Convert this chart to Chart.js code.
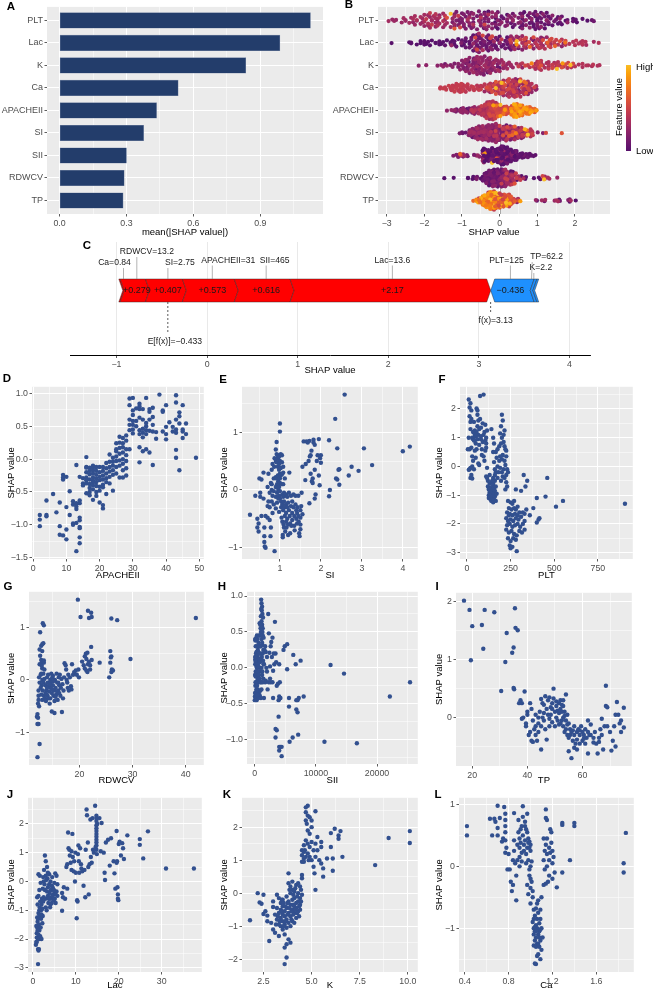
<!DOCTYPE html>
<html><head><meta charset="utf-8">
<script src="https://cdn.jsdelivr.net/npm/chart.js@4.4.1/dist/chart.umd.min.js"></script>
<style>
html,body{margin:0;padding:0;background:#fff;width:653px;height:991px;overflow:hidden;position:relative;}
canvas{position:absolute;}
.letter{position:absolute;font:bold 11.5px "Liberation Sans",Arial,sans-serif;color:#000;transform:translate(-50%,-50%);line-height:1;}
</style></head><body>
<script>
// ---------------- DATA ----------------
const features = ['PLT','Lac','K','Ca','APACHEII','SI','SII','RDWCV','TP'];
const meanAbsShap = [1.125,0.988,0.835,0.532,0.435,0.377,0.300,0.290,0.285];

// Force plot (panel C)
const forceFeatures = ['Ca','RDWCV','SI','APACHEII','SII','Lac','PLT','TP','K'];
const forceFeatureValues = ['0.84','13.2','2.75','31','465','13.6','125','62.2','2.2'];
const forceShap = [0.015,0.279,0.407,0.573,0.616,2.17,-0.436,-0.03,-0.02];
const baseValue = -0.433;
const fxValue = 3.13;

// Dependence data: [feature value, SHAP value]
const apacheiiData = [[2,-0.85],[2,-0.92],[2,-1.02],[4,-0.63],[4,-0.85],[4,-0.87],[6,-0.53],[7,-0.81],[8,-0.66],[8,-1.02],[8,-1.15],[9,-0.24],[9,-0.31],[9,-1.16],[9,-0.28],[10,-0.27],[10,-0.73],[10,-1.07],[10,-1.22],[11,-0.49],[11,-0.85],[12,-0.64],[12,-0.69],[12,-0.98],[12,-1.0],[13,-0.09],[13,-0.67],[13,-0.72],[13,-0.76],[13,-0.97],[13,-1.4],[14,-0.27],[14,-0.63],[14,-0.67],[14,-0.89],[14,-0.93],[14,-1.03],[14,-1.05],[14,-1.19],[14,-1.28],[15,-0.29],[15,-0.37],[15,-0.4],[16,0.03],[16,-0.12],[16,-0.13],[16,-0.2],[16,-0.28],[16,-0.32],[16,-0.37],[16,-0.52],[17,-0.13],[17,-0.18],[17,-0.23],[17,-0.31],[17,-0.38],[17,-0.44],[17,-0.5],[17,-0.55],[18,-0.1],[18,-0.13],[18,-0.17],[18,-0.22],[18,-0.28],[18,-0.33],[18,-0.36],[18,-0.4],[18,-0.46],[18,-0.62],[19,-0.12],[19,-0.18],[19,-0.24],[19,-0.3],[19,-0.35],[19,-0.41],[19,-0.5],[19,-0.56],[20,-0.12],[20,-0.2],[20,-0.27],[20,-0.32],[20,-0.42],[20,-0.48],[20,-0.66],[21,-0.12],[21,-0.18],[21,-0.25],[21,-0.31],[21,-0.39],[21,-0.43],[21,-0.7],[21,-0.75],[22,-0.06],[22,-0.14],[22,-0.22],[22,-0.29],[22,-0.35],[22,-0.53],[23,0.07],[23,-0.04],[23,-0.12],[23,-0.19],[23,-0.27],[23,-0.37],[24,0.02],[24,-0.04],[24,-0.1],[24,-0.17],[24,-0.24],[24,-0.48],[25,0.24],[25,0.15],[25,0.12],[25,0.04],[25,-0.03],[25,-0.12],[25,-0.22],[26,0.34],[26,0.25],[26,0.17],[26,0.08],[26,-0.02],[26,-0.1],[26,-0.28],[27,0.32],[27,0.24],[27,0.18],[27,0.1],[27,0.0],[27,-0.07],[27,-0.17],[27,-0.28],[28,0.36],[28,0.28],[28,0.15],[28,0.06],[28,-0.03],[28,-0.14],[28,-0.25],[29,0.92],[29,0.82],[29,0.6],[29,0.52],[29,0.44],[29,0.15],[30,0.93],[30,0.74],[30,0.67],[30,0.58],[30,0.52],[30,0.45],[30,0.39],[31,0.77],[31,0.58],[31,0.5],[32,0.84],[32,0.8],[32,0.76],[32,0.63],[32,0.44],[32,0.38],[32,0.18],[32,-0.05],[33,0.76],[33,0.6],[33,0.46],[33,0.4],[33,0.33],[33,0.12],[34,0.93],[34,0.55],[34,0.5],[34,0.44],[34,0.38],[34,0.15],[35,0.76],[35,0.72],[35,0.6],[35,0.43],[35,0.1],[36,0.78],[36,0.64],[36,0.52],[36,0.42],[36,-0.09],[37,0.41],[37,0.31],[38,0.98],[39,0.74],[39,0.72],[39,0.42],[40,0.82],[40,0.49],[40,0.38],[40,0.3],[41,0.56],[42,0.49],[42,0.42],[43,0.97],[43,0.86],[43,0.6],[43,0.45],[43,0.4],[43,0.14],[43,0.02],[44,0.71],[44,0.65],[44,0.54],[44,-0.17],[45,0.82],[45,0.45],[45,0.42],[45,0.32],[46,0.54],[46,0.38],[49,0.02]];

const siData = [[0.27,-0.43],[0.4,-0.1],[0.45,-0.5],[0.45,-0.65],[0.48,-0.72],[0.48,-0.58],[0.5,0.2],[0.52,-0.05],[0.52,-0.12],[0.55,0.18],[0.55,-0.45],[0.6,0.3],[0.6,-0.15],[0.62,-0.65],[0.62,-0.8],[0.62,-0.9],[0.63,-0.98],[0.65,-1.0],[0.65,-0.45],[0.7,0.05],[0.7,-0.28],[0.7,-0.48],[0.72,-0.2],[0.72,0.28],[0.75,-0.05],[0.75,-0.3],[0.75,-0.52],[0.77,-0.8],[0.78,-0.65],[0.78,0.12],[0.8,0.35],[0.8,0.1],[0.8,0.0],[0.8,-0.2],[0.82,0.45],[0.82,-0.1],[0.82,-0.4],[0.85,0.2],[0.85,-0.02],[0.85,-0.25],[0.86,0.4],[0.87,-1.06],[0.87,0.55],[0.9,0.7],[0.9,0.5],[0.9,0.22],[0.9,0.05],[0.9,-0.12],[0.9,-0.32],[0.92,0.62],[0.92,0.48],[0.92,0.2],[0.92,0.83],[0.93,0.1],[0.93,-0.05],[0.93,-0.22],[0.95,0.6],[0.95,0.55],[0.95,0.4],[0.95,0.25],[0.96,0.15],[0.96,0.0],[0.96,-0.15],[0.98,0.58],[0.98,0.45],[0.98,0.35],[0.98,0.05],[0.98,-0.1],[0.98,-0.38],[1.0,1.15],[1.0,1.01],[1.0,0.5],[1.0,0.28],[1.0,0.2],[1.0,0.12],[1.0,-0.02],[1.0,-0.15],[1.02,0.62],[1.02,0.38],[1.02,0.25],[1.03,-0.2],[1.03,-0.3],[1.04,-0.48],[1.05,0.6],[1.05,0.48],[1.05,0.27],[1.05,0.1],[1.06,-0.08],[1.06,-0.25],[1.06,-0.55],[1.07,-0.78],[1.07,-0.82],[1.08,0.4],[1.08,0.3],[1.08,0.1],[1.08,-0.12],[1.08,-0.35],[1.09,-0.6],[1.1,-0.65],[1.1,-0.05],[1.1,-0.2],[1.12,0.2],[1.12,-0.1],[1.12,-0.3],[1.12,-0.45],[1.13,-0.72],[1.15,-0.08],[1.15,-0.25],[1.15,-0.4],[1.15,-0.55],[1.16,-0.65],[1.18,-0.12],[1.18,-0.3],[1.18,-0.5],[1.2,-0.6],[1.2,-0.78],[1.2,-0.22],[1.22,-0.05],[1.22,-0.35],[1.23,0.3],[1.24,-0.45],[1.25,-0.75],[1.25,-0.58],[1.27,-0.1],[1.27,-0.28],[1.28,-0.62],[1.3,-0.4],[1.3,-0.52],[1.3,-0.2],[1.33,-0.08],[1.33,-0.3],[1.35,-0.45],[1.35,-0.62],[1.36,-0.7],[1.38,-0.1],[1.38,-0.25],[1.4,-0.35],[1.4,-0.5],[1.42,-0.4],[1.42,-0.58],[1.43,-0.3],[1.45,-0.1],[1.45,-0.45],[1.46,-0.55],[1.47,-0.75],[1.48,-0.8],[1.5,-0.35],[1.5,-0.48],[1.5,-0.6],[1.5,-0.68],[1.52,-0.28],[1.53,-0.05],[1.55,-0.42],[1.55,0.4],[1.58,0.84],[1.62,0.17],[1.63,0.45],[1.65,0.84],[1.68,0.82],[1.7,0.5],[1.72,0.85],[1.72,-0.23],[1.73,0.58],[1.75,0.6],[1.75,0.28],[1.77,0.68],[1.78,0.15],[1.8,0.2],[1.8,0.12],[1.82,0.87],[1.82,0.82],[1.85,0.78],[1.85,0.35],[1.85,-0.15],[1.87,-0.08],[1.9,0.5],[1.92,0.6],[1.95,0.88],[1.95,0.25],[1.97,0.08],[1.98,0.55],[2.0,0.47],[2.0,0.6],[2.2,0.86],[2.22,0.0],[2.2,-0.11],[2.35,1.23],[2.37,0.2],[2.4,0.72],[2.4,0.18],[2.43,0.35],[2.45,0.36],[2.45,0.09],[2.58,1.65],[2.68,0.25],[2.75,0.4],[2.92,0.33],[3.05,0.72],[3.25,0.43],[4.0,0.67],[4.17,0.75]];

const pltData = [[10,2.33],[20,2.2],[15,2.05],[25,1.95],[15,1.75],[20,1.55],[25,1.65],[20,1.3],[10,1.0],[30,1.0],[35,0.95],[5,0.6],[15,0.6],[25,0.65],[30,0.35],[35,0.2],[30,0.0],[15,-0.1],[20,-0.05],[25,-0.3],[20,-0.4],[30,-0.42],[10,-0.12],[40,-0.1],[45,1.1],[45,1.25],[45,0.9],[50,1.05],[50,0.8],[55,1.2],[55,0.6],[55,2.02],[60,1.95],[60,1.8],[65,1.6],[60,1.4],[65,1.1],[60,0.95],[70,0.75],[65,0.1],[70,0.05],[75,1.65],[75,2.45],[80,1.35],[80,1.05],[85,0.6],[85,0.4],[90,1.5],[95,2.5],[95,1.1],[90,0.85],[95,0.35],[100,1.2],[105,1.45],[105,0.9],[110,0.8],[100,0.2],[110,1.0],[115,1.25],[110,0.65],[40,0.9],[35,1.2],[50,0.3],[45,0.55],[40,1.55],[70,1.3],[80,0.95],[105,0.55],[115,-0.05],[110,-0.35],[115,-0.4],[120,-0.5],[120,-0.7],[125,-0.8],[125,-1.0],[125,-1.1],[130,-0.6],[130,-0.9],[130,-1.05],[135,-0.75],[135,-0.95],[135,-1.15],[140,-0.55],[140,-0.85],[140,-1.0],[140,-1.2],[145,-0.7],[145,-0.9],[145,-1.1],[150,-0.6],[150,-0.8],[150,-1.0],[150,-1.25],[155,-0.75],[155,-0.95],[155,-1.15],[160,-0.5],[160,-0.85],[160,-1.05],[165,-0.7],[165,-1.2],[170,-0.95],[130,-0.3],[150,-0.4],[145,-0.5],[160,-0.3],[165,-0.2],[200,1.8],[205,1.6],[195,1.4],[190,1.15],[200,1.0],[210,0.85],[195,0.8],[215,0.7],[220,0.6],[225,0.55],[205,0.4],[200,0.25],[190,0.35],[185,0.2],[215,0.2],[220,0.05],[210,-0.1],[200,-0.2],[190,-0.05],[180,-0.2],[175,0.0],[170,0.3],[165,0.5],[160,-0.1],[155,0.8],[150,1.0],[155,0.15],[175,0.6],[215,1.25],[225,0.35],[230,-0.1],[225,-0.3],[205,-0.35],[215,-0.4],[225,-0.55],[230,-0.7],[220,-0.8],[235,-0.2],[175,-0.4],[195,-0.5],[140,1.3],[150,0.5],[210,1.1],[185,0.7],[235,-1.2],[250,-1.25],[260,-1.3],[240,-1.45],[255,-1.5],[270,-1.45],[280,-1.5],[230,-1.6],[245,-1.65],[260,-1.7],[275,-1.65],[290,-1.7],[300,-1.6],[225,-1.8],[235,-1.9],[250,-1.85],[265,-1.9],[280,-1.8],[295,-1.85],[310,-1.75],[320,-1.6],[230,-2.05],[245,-2.0],[260,-2.1],[275,-2.05],[290,-2.0],[305,-2.1],[225,-2.2],[240,-2.3],[255,-2.25],[270,-2.35],[285,-2.4],[300,-2.25],[315,-2.3],[235,-2.5],[250,-2.6],[265,-2.5],[280,-2.55],[245,-2.75],[260,-2.8],[250,-2.85],[285,-2.95],[330,-1.9],[330,-2.2],[320,-2.0],[270,-1.2],[290,-1.4],[240,-1.7],[280,-0.8],[310,-0.85],[325,-0.3],[345,-0.5],[335,-0.7],[340,-1.5],[330,-1.65],[360,-1.7],[380,-1.45],[400,-1.1],[400,-1.95],[410,-1.85],[415,-1.8],[450,-1.05],[460,-0.4],[510,-1.4],[550,-1.2],[905,-1.3]];

const rdwcvData = [[12.1,-0.65],[12.0,-0.7],[12.2,-0.72],[12.1,-0.84],[12.3,-0.84],[12.1,-1.47],[12.5,-1.22],[12.2,-0.45],[12.3,-0.38],[12.3,-0.3],[12.4,-0.5],[12.3,-0.2],[12.5,-0.05],[12.4,0.05],[12.5,0.3],[12.6,0.46],[12.5,0.58],[12.6,0.91],[12.8,0.65],[13.1,1.08],[13.3,1.04],[13.0,0.68],[13.2,0.7],[13.0,0.55],[12.8,0.38],[12.9,0.32],[13.1,0.35],[13.3,0.33],[13.0,0.22],[12.8,0.12],[13.2,0.12],[13.4,0.2],[13.0,0.0],[12.9,-0.1],[13.2,-0.05],[13.4,0.02],[12.7,-0.15],[13.1,-0.2],[13.3,-0.3],[12.8,-0.28],[13.0,-0.38],[13.5,-0.35],[12.9,0.27],[13.3,0.37],[12.7,0.1],[13.6,-0.1],[13.8,-0.2],[14.0,-0.05],[14.0,-0.3],[14.2,-0.12],[14.3,-0.22],[14.5,0.0],[14.5,-0.35],[14.6,-0.15],[14.8,-0.25],[14.9,0.05],[15.0,-0.1],[15.1,-0.3],[15.2,-0.2],[15.4,0.0],[15.5,-0.15],[15.6,-0.28],[15.8,-0.05],[16.0,-0.2],[16.1,0.05],[16.2,-0.1],[16.4,-0.3],[16.5,-0.15],[16.6,0.02],[16.8,-0.08],[17.0,-0.2],[17.1,0.05],[13.7,-0.4],[14.1,0.1],[14.7,0.12],[15.3,-0.4],[15.9,-0.38],[16.3,0.1],[13.9,0.05],[14.4,-0.45],[15.7,0.12],[16.9,-0.35],[14.8,-0.6],[15.3,-0.63],[16.7,-0.61],[14.6,-0.05],[15.0,0.08],[13.8,-0.28],[15.5,-0.32],[13.6,-0.25],[14.2,-0.35],[14.9,-0.18],[15.8,-0.22],[16.2,-0.25],[13.9,-0.15],[14.4,-0.08],[15.1,-0.02],[16.0,-0.05],[17.2,0.32],[17.4,0.28],[17.5,0.2],[17.6,0.0],[17.8,-0.15],[17.9,0.1],[18.0,-0.2],[18.2,0.05],[18.4,-0.12],[18.6,0.3],[18.8,0.1],[19.0,0.15],[19.3,0.18],[19.5,0.1],[19.8,0.2],[19.9,0.05],[18.5,-0.18],[17.7,-0.05],[19.7,1.53],[20.2,1.2],[21.6,1.32],[21.8,1.18],[22.2,1.28],[22.3,1.2],[20.5,0.35],[21.0,0.45],[21.2,0.5],[21.3,0.4],[21.5,0.52],[21.6,0.3],[21.8,0.35],[22.0,0.2],[22.2,0.63],[22.3,0.38],[21.3,0.18],[21.5,0.15],[20.8,0.28],[22.0,0.28],[21.0,0.22],[23.8,0.33],[25.6,0.05],[25.8,0.55],[25.9,0.43],[26.0,0.45],[25.8,0.33],[26.1,0.2],[26.0,0.15],[26.3,0.18],[26.0,1.17],[27.1,1.14],[29.6,0.4],[41.9,1.18]];

const siiData = [[100,0.12],[150,-0.05],[200,0.05],[250,-0.2],[300,0.1],[350,-0.1],[400,0.0],[450,0.15],[500,-0.3],[100,-0.25],[200,-0.4],[300,-0.45],[150,0.3],[250,0.42],[350,0.45],[450,0.4],[600,0.35],[700,0.45],[800,0.62],[500,0.25],[650,0.1],[750,-0.05],[850,0.0],[950,0.2],[550,-0.15],[650,-0.35],[700,-0.4],[200,0.2],[300,-0.32],[400,0.3],[600,-0.2],[100,0.38],[150,-0.12],[250,0.03],[350,0.08],[450,-0.17],[550,0.13],[800,0.3],[900,0.45],[1000,0.72],[1050,0.95],[1100,0.9],[1150,0.8],[1200,0.85],[1100,0.65],[1200,0.6],[1300,0.55],[1000,0.5],[1100,0.4],[1250,0.32],[1300,0.45],[1400,0.25],[1000,0.1],[1100,0.0],[1200,-0.1],[1300,0.2],[1050,-0.2],[1250,-0.05],[1400,-0.15],[900,-0.2],[1150,0.15],[1350,0.7],[1450,0.42],[1500,-0.42],[800,-0.38],[1000,-0.42],[1500,0.05],[950,0.55],[1250,0.75],[1600,0.25],[1700,0.3],[1800,0.22],[1900,0.0],[2000,0.15],[2200,0.75],[2300,0.48],[2100,-0.3],[1800,-0.18],[1700,-0.2],[2400,0.21],[2500,0.02],[2600,0.3],[2700,0.36],[2800,0.15],[2900,0.42],[2300,-0.2],[2600,-0.2],[2900,-0.2],[3000,-0.42],[3200,0.05],[3300,0.64],[3400,0.2],[3500,0.08],[3600,-0.25],[3800,-0.22],[3900,-0.45],[4000,-0.4],[4100,-0.42],[4100,-0.2],[4200,-0.42],[3000,-0.04],[2500,-0.15],[3100,0.2],[2000,-0.05],[4000,0.05],[4700,0.25],[4900,0.3],[5300,0.33],[5300,-0.02],[6300,0.18],[6700,0.05],[7500,0.1],[7000,-0.45],[6800,-0.45],[7200,-0.42],[8000,-0.4],[5600,-0.42],[5600,-0.54],[6800,-0.58],[7000,-0.62],[3900,-0.68],[3400,-0.85],[3600,-0.87],[3400,-0.97],[4000,-1.1],[4200,-1.1],[4400,-1.1],[4000,-1.15],[4400,-1.23],[5700,-1.03],[6200,-0.97],[7100,-0.93],[11400,-1.03],[16700,-1.05],[12400,0.04],[14600,-0.08],[22100,-0.4],[25400,-0.2],[50,-0.1],[80,0.05],[120,-0.2],[180,0.08],[220,-0.08],[280,0.22],[320,0.0],[380,-0.25],[420,0.18],[480,0.05],[520,-0.05],[580,0.22],[620,0.02],[680,-0.1],[720,0.2],[780,0.12],[820,-0.15],[880,0.08],[50,-0.35],[120,0.1],[0,-0.45],[30,-0.4],[60,0.4],[160,-0.42],[600,-0.42],[880,-0.32],[1050,0.82],[1150,0.58],[1250,0.5],[1000,0.3],[1100,-0.3],[1300,-0.2],[900,0.6],[1200,0.35],[1350,0.1],[60,0.15],[260,-0.3],[420,-0.38],[700,0.3],[1450,0.05]];

const tpData = [[17,2.02],[19,1.86],[19.5,0.99],[20,1.58],[23.5,1.6],[24,1.19],[24.5,1.86],[28,1.82],[30.5,0.46],[32,0.96],[32.5,1.46],[34.5,1.12],[35,1.21],[35,0.51],[35.2,0.49],[35.5,1.89],[35.7,1.55],[36.5,1.51],[37,0.25],[37.5,0.3],[38,0.25],[38,-0.02],[38.5,0.0],[39,0.45],[39.5,-0.1],[39.5,-0.15],[40,0.1],[40,0.05],[40.5,-0.3],[41,0.25],[41,-0.25],[41.5,-0.4],[41.5,0.15],[42,-0.05],[42,-0.42],[42.5,-0.2],[43,-0.3],[43,-0.15],[43.5,-0.4],[44,-0.1],[44,-0.25],[44.5,0.1],[45,0.32],[45,-0.15],[45,-0.55],[45.5,0.25],[45.5,0.0],[46,-0.05],[46,0.22],[46.5,-0.2],[46.5,0.37],[47,0.15],[47,-0.38],[47.5,0.05],[47.5,0.3],[48,-0.15],[48,0.35],[48.5,0.18],[48.5,0.05],[49,0.25],[49,-0.08],[49.5,0.5],[49.5,0.33],[50,0.1],[50,-0.15],[50.5,0.2],[50.5,0.0],[51,0.12],[51,-0.05],[51.5,0.25],[51.5,0.08],[52,0.3],[52,-0.1],[52,0.15],[52.5,0.22],[52.5,-0.05],[53,0.2],[53,0.0],[53,-0.15],[53.5,0.1],[53.5,-0.25],[54,0.4],[54,-0.05],[54,-0.2],[54.5,-0.3],[54.5,0.05],[55,-0.1],[55,-0.35],[55,-0.58],[55.5,-0.2],[56,-0.25],[56,-0.7],[56.5,-0.4],[57,-0.3],[57,-0.15],[57.5,-0.45],[58,-0.25],[58,-0.38],[58.5,-0.2],[59,-0.3],[59,-0.45],[59.5,-0.15],[60,-0.25],[60,-0.4],[60.5,-0.3],[61,-0.2],[61,-0.45],[61.5,-0.35],[62,-0.05],[62,-0.62],[62.5,-0.3],[63,-0.3],[64,-0.35],[64,-0.43],[64.5,-0.25],[65,-0.45],[65.5,-0.62],[66,-0.35],[66.5,-0.2],[67,-0.02],[67,-0.3],[67.5,-0.55],[68,-0.15],[68.5,0.55],[68.5,0.2],[69,0.18],[69,-0.15],[70,-0.25],[70.5,-0.57],[71,-0.4],[71.5,-0.15],[72,0.05],[72,-0.5],[72.5,0.27],[73,0.05],[73.5,-0.1],[74,-0.05],[74,-0.25],[75,0.17],[75,-0.17],[63,-0.12],[58,-0.55],[66,-0.42],[57,-0.52],[50.5,0.28],[51.5,-0.12],[52.5,0.1],[53.5,0.03],[54.5,-0.12],[55.5,-0.3],[56.5,-0.22],[53,0.3],[49,0.15],[48,-0.02],[46,0.08],[44,0.0],[43,0.05],[59,-0.22],[60.5,-0.36],[62,-0.25]];

const lacData = [[0.7,-2.2],[0.8,-2.1],[0.9,-1.95],[0.9,-1.8],[1.0,-1.6],[0.8,-1.55],[1.1,-1.4],[1.0,-1.25],[1.2,-2.35],[1.3,-2.4],[1.4,-2.35],[1.2,-2.0],[1.3,-1.85],[1.5,-1.7],[1.4,-1.5],[1.2,-1.3],[1.3,-1.1],[1.5,-1.2],[1.6,-0.9],[1.1,-0.8],[1.0,-0.55],[1.3,-0.5],[1.2,-2.87],[1.6,-2.0],[1.7,-1.9],[1.8,-1.6],[1.9,-1.3],[1.9,-1.0],[2.0,-0.8],[2.1,-0.6],[1.5,-0.3],[1.3,0.25],[1.6,0.2],[1.8,-0.05],[2.0,-2.0],[2.2,-1.45],[2.3,-1.2],[2.2,-0.95],[2.4,-0.7],[2.5,-0.55],[2.3,-0.25],[2.5,0.0],[2.6,0.4],[2.4,0.15],[2.0,-1.15],[1.7,-0.7],[1.5,-1.0],[1.1,-1.7],[0.9,-2.1],[2.8,0.9],[3.0,0.7],[3.0,0.2],[2.8,-0.3],[2.9,-0.6],[3.0,-0.9],[3.2,-1.0],[3.3,0.5],[3.4,0.1],[3.5,-0.2],[3.5,-0.5],[3.6,-0.75],[3.8,0.25],[3.8,-0.1],[3.9,-0.4],[4.0,-0.6],[4.0,-0.9],[4.1,0.0],[4.2,-0.3],[4.3,-0.55],[4.4,-0.75],[4.5,0.15],[4.6,-0.2],[4.7,-0.45],[4.8,-0.65],[5.0,-0.05],[5.0,-0.35],[5.1,-0.6],[5.2,0.28],[5.3,-0.75],[5.5,0.2],[5.5,-0.35],[5.7,-0.1],[5.7,-0.5],[3.3,-0.35],[3.7,-0.6],[4.1,-0.8],[4.6,-0.5],[3.1,0.05],[3.5,0.3],[4.4,-0.15],[4.9,-0.3],[5.3,-0.45],[2.7,-0.1],[6.8,-1.02],[6.8,-0.4],[7.0,-0.55],[7.2,-0.2],[7.5,-0.6],[7.8,0.5],[8.0,-0.25],[8.0,0.6],[8.2,1.7],[8.3,1.15],[8.5,1.1],[8.6,0.9],[8.8,0.65],[9.0,0.4],[9.0,1.05],[9.2,1.65],[9.3,0.85],[9.5,0.35],[9.6,0.7],[9.8,0.0],[9.9,1.0],[10.0,0.3],[10.2,-1.28],[10.3,-0.65],[10.4,-0.7],[10.5,0.95],[10.6,1.25],[10.7,0.7],[10.8,0.3],[11.0,1.15],[11.2,0.6],[11.3,0.45],[11.5,0.35],[11.8,-0.15],[12.0,0.4],[12.2,-0.55],[12.3,1.1],[12.5,2.5],[12.6,2.3],[12.8,1.35],[12.9,0.5],[13.0,-0.45],[13.2,0.6],[13.4,2.15],[13.5,0.85],[13.7,0.65],[13.9,2.2],[14.0,1.1],[14.2,1.0],[14.5,2.63],[14.8,2.28],[14.8,2.2],[14.8,1.95],[14.8,1.85],[14.8,1.75],[14.8,1.65],[14.8,1.55],[14.8,1.45],[14.8,1.35],[14.8,1.25],[14.8,1.1],[14.8,2.1],[14.6,1.2],[14.9,0.95],[15.0,2.0],[15.5,2.2],[15.8,1.05],[16.0,2.03],[16.5,1.0],[16.7,0.3],[16.8,0.05],[17.0,1.35],[17.5,1.45],[17.9,0.55],[18.2,1.5],[18.8,0.7],[19.0,0.28],[19.2,-0.25],[19.5,0.65],[19.5,1.75],[19.6,0.7],[19.7,-0.2],[19.8,-0.45],[19.8,-0.6],[19.9,-0.65],[20.0,1.3],[20.2,1.38],[20.5,0.9],[20.8,1.33],[21.0,1.15],[21.2,0.78],[22.0,1.6],[24.9,1.47],[24.9,1.27],[25.7,0.8],[26.8,1.74],[31.0,0.45],[37.5,0.45]];

const kData = [[1.8,-0.82],[2.2,0.0],[2.3,-0.28],[2.4,-0.32],[2.5,-0.05],[2.5,-0.63],[2.6,-0.55],[2.7,-0.68],[2.7,-0.85],[2.8,-1.45],[2.9,-0.9],[3.0,-1.1],[3.0,-0.42],[3.0,-0.25],[3.1,-1.2],[3.1,-0.65],[3.2,-0.8],[3.2,-0.45],[3.2,-0.05],[3.3,-1.3],[3.3,-0.95],[3.3,-0.6],[3.3,-0.15],[3.4,-1.0],[3.4,-0.75],[3.4,-0.5],[3.4,-0.3],[3.5,-0.85],[3.5,-0.65],[3.5,-0.4],[3.5,-0.2],[3.5,-1.1],[3.6,-1.25],[3.6,-0.95],[3.6,-0.7],[3.6,-0.55],[3.6,-1.65],[3.6,-2.15],[3.7,-1.95],[3.7,-1.55],[3.7,-1.05],[3.7,-0.8],[3.7,-0.45],[3.7,-0.1],[3.8,-1.4],[3.8,-0.9],[3.8,-0.6],[3.8,-0.25],[3.8,0.3],[3.8,0.6],[3.9,-1.5],[3.9,-1.0],[3.9,-0.7],[3.9,-0.35],[3.9,0.0],[3.9,0.2],[4.0,-0.85],[4.0,-0.5],[4.0,-0.2],[4.0,0.1],[4.0,0.35],[4.1,-0.9],[4.1,-0.6],[4.1,-0.4],[4.1,-0.15],[4.1,0.05],[4.2,-0.75],[4.2,-0.45],[4.2,-0.3],[4.2,0.25],[4.3,-0.55],[4.3,-0.25],[4.3,0.0],[4.3,0.3],[4.4,-0.5],[4.4,-0.35],[4.4,-0.15],[4.4,0.2],[4.5,-0.05],[4.5,0.45],[4.5,0.55],[4.5,0.95],[4.5,1.15],[4.5,1.3],[4.6,1.05],[4.6,1.25],[4.6,1.45],[4.7,2.6],[4.7,2.45],[4.7,2.2],[4.7,1.6],[4.7,1.1],[4.75,2.1],[4.8,2.65],[4.8,2.35],[4.8,1.9],[4.8,1.5],[4.8,1.2],[4.85,1.0],[4.9,2.3],[4.9,1.8],[4.9,1.4],[4.9,1.1],[5.0,2.2],[5.0,2.0],[5.0,1.55],[5.0,1.0],[5.1,1.3],[5.1,0.8],[5.15,0.6],[5.2,2.48],[5.2,1.5],[5.2,1.1],[5.2,0.1],[5.3,1.7],[5.3,1.3],[5.4,1.0],[5.5,1.55],[5.5,1.4],[5.5,0.9],[5.6,0.75],[5.6,0.5],[5.8,1.05],[6.0,1.82],[6.0,1.4],[6.1,1.05],[6.1,0.68],[6.2,1.95],[6.4,1.75],[6.4,1.65],[6.5,1.88],[6.6,1.1],[8.3,0.85],[9.0,1.67],[10.1,1.88],[10.1,1.52],[3.45,-0.55],[3.55,-0.3],[3.65,-0.85],[3.75,-0.65],[3.85,-0.45],[3.95,-0.55],[4.05,-0.35],[4.15,-0.5],[4.25,-0.1],[4.35,-0.4],[3.35,-0.85],[3.25,-0.7],[4.45,-0.25],[4.05,-0.05],[3.85,0.1],[4.15,0.15],[4.6,0.95],[4.65,1.3],[3.15,-0.95],[3.45,-0.2],[3.55,-1.0],[3.75,-0.3],[3.95,-0.8],[4.25,-0.6],[4.35,-0.7],[3.65,-0.4],[4.45,0.1],[4.05,-0.65]];

const caData = [[0.42,0.65],[0.42,0.5],[0.63,0.77],[0.65,0.5],[0.67,0.77],[0.68,0.72],[0.7,0.98],[0.7,0.5],[0.7,0.62],[0.72,0.78],[0.74,0.4],[0.75,0.45],[0.76,0.96],[0.77,0.85],[0.77,0.75],[0.77,0.65],[0.77,0.55],[0.77,0.42],[0.77,0.22],[0.78,0.3],[0.79,-0.05],[0.8,0.2],[0.81,-0.05],[0.82,-0.25],[0.83,-0.4],[0.84,0.1],[0.84,-0.3],[0.85,0.86],[0.85,0.42],[0.85,0.25],[0.86,0.05],[0.87,-0.15],[0.87,-0.55],[0.88,0.35],[0.88,0.1],[0.89,0.75],[0.89,0.55],[0.9,0.45],[0.9,0.3],[0.9,0.15],[0.9,0.0],[0.91,0.6],[0.91,0.38],[0.92,0.22],[0.92,0.08],[0.93,0.97],[0.93,0.8],[0.93,0.5],[0.94,0.35],[0.94,0.25],[0.95,0.72],[0.95,0.65],[0.95,0.42],[0.96,0.2],[0.96,0.05],[0.97,0.55],[0.97,0.3],[0.97,-0.3],[0.98,0.45],[0.98,0.38],[0.98,0.1],[0.98,-0.45],[0.99,0.3],[0.99,-0.15],[0.99,-0.05],[1.0,0.25],[1.0,0.0],[1.0,-0.2],[1.0,-0.35],[1.0,-0.6],[1.01,0.08],[1.01,-0.25],[1.02,-0.5],[1.02,-0.9],[1.03,-0.7],[1.03,-1.0],[1.03,-1.1],[1.03,-1.28],[1.04,-0.8],[1.04,-1.05],[1.04,-1.2],[1.04,-1.57],[1.05,-0.68],[1.05,-0.95],[1.05,-1.15],[1.05,-1.3],[1.05,-1.58],[1.06,-0.85],[1.06,-1.0],[1.06,-1.25],[1.06,-1.45],[1.07,-0.75],[1.07,-0.55],[1.07,-1.1],[1.07,-1.42],[1.08,-0.92],[1.08,-1.05],[1.08,-1.3],[1.09,-0.7],[1.09,-0.85],[1.09,-1.2],[1.09,-1.5],[1.1,-0.5],[1.1,-1.0],[1.1,-1.35],[1.11,-1.15],[1.12,-0.3],[1.12,0.45],[1.12,0.1],[1.13,-0.05],[1.13,0.25],[1.14,0.92],[1.14,0.78],[1.14,0.35],[1.14,-0.28],[1.15,0.75],[1.15,0.45],[1.15,0.2],[1.15,0.0],[1.16,-0.25],[1.17,0.3],[1.17,0.1],[1.17,-0.15],[1.18,0.22],[1.18,0.6],[1.19,0.55],[1.19,0.38],[1.2,0.25],[1.2,0.05],[1.2,-0.2],[1.21,0.15],[1.22,-0.1],[1.24,-0.34],[1.29,0.7],[1.29,0.67],[1.29,-0.1],[1.36,0.1],[1.4,0.7],[1.4,0.65],[1.85,0.05],[1.85,-0.1],[1.87,0.54],[0.96,0.6],[0.99,0.4],[1.0,0.35],[0.92,0.65],[0.97,0.85],[1.04,-0.98],[1.07,-1.25],[1.05,-1.05],[1.08,-1.15],[1.02,-0.4],[1.06,-0.6],[1.09,-1.02],[1.03,-0.85]];

// order of beeswarm rows follows `features`
const beeswarmSources = { PLT: pltData, Lac: lacData, K: kData, Ca: caData, APACHEII: apacheiiData, SI: siData, SII: siiData, RDWCV: rdwcvData, TP: tpData };

// ---------------- HELPERS ----------------
const FONT = '"Liberation Sans", Arial, Helvetica, sans-serif';
Chart.defaults.font.family = FONT;
Chart.defaults.font.size = 9;
Chart.defaults.color = '#4D4D4D';
Chart.defaults.animation = false;

const INFERNO = ['#000004','#160B39','#420A68','#6A176E','#932667','#BC3754','#DD513A','#F37819','#FCA50A','#F6D746','#FCFFA4'];
function hexRgb(h){return [parseInt(h.slice(1,3),16),parseInt(h.slice(3,5),16),parseInt(h.slice(5,7),16)];}
function inferno(t){
  t=Math.max(0,Math.min(1,t)); const p=t*10, i=Math.min(9,Math.floor(p)), f=p-i;
  const a=hexRgb(INFERNO[i]), b=hexRgb(INFERNO[i+1]);
  return 'rgb('+a.map((v,k)=>Math.round(v+(b[k]-v)*f)).join(',')+')';
}
function featureColor(u){ return inferno(0.25 + 0.6*u); }

const minus = s => s.replace('-', '\u2212');
const f0 = v => minus(String(Math.round(v)));
const f1 = v => minus((Math.abs(v) < 1e-9 ? 0 : v).toFixed(1));

function makeCanvas(id, left, top, w, h){
  const c=document.createElement('canvas'); c.id=id; c.width=w; c.height=h;
  c.style.left=left+'px'; c.style.top=top+'px'; c.style.width=w+'px'; c.style.height=h+'px';
  document.body.appendChild(c); return c;
}
function addLetter(t,x,y){ const d=document.createElement('div'); d.className='letter'; d.textContent=t; d.style.left=x+'px'; d.style.top=y+'px'; document.body.appendChild(d); }
function expand(vals){ const mn=Math.min(...vals), mx=Math.max(...vals), r=mx-mn; return [mn-0.05*r, mx+0.05*r]; }

function ggLinear(o){
  const key=v=>Math.round(v*1e6);
  const majors=o.majors.filter(v=>v>=o.min&&v<=o.max);
  const minors=(o.minors||[]).filter(v=>v>o.min&&v<o.max);
  const majSet=new Set(majors.map(key));
  const isMaj=v=>majSet.has(key(v));
  const all=[...majors,...minors].sort((a,b)=>a-b);
  const horiz = o.position==='bottom'||o.position==='top';
  return {
    type:'linear', position:o.position, min:o.min, max:o.max, reverse:!!o.reverse, offset:false,
    afterBuildTicks: s => { s.ticks = all.map(v=>({value:v})); },
    afterFit: s => { if (horiz) s.height=o.size; else s.width=o.size; },
    ticks:{ autoSkip:false, maxRotation:0, minRotation:0, padding:o.tickPad??1.5, color:o.tickColor||'#4D4D4D', font:{size:o.tickFont||8.8, family:FONT},
      callback:(v)=> isMaj(v) ? (o.fmt?o.fmt(v):String(v)) : '' },
    grid:{ offset:false, drawOnChartArea:true, drawTicks:true, tickLength:o.tickLen??2.5,
      color:o.gridColor||'#FFFFFF',
      lineWidth:c=> (c.tick && isMaj(c.tick.value)) ? (o.majorW??1) : (o.minorW??0.5),
      tickColor:c=> (c.tick && isMaj(c.tick.value)) ? '#333333' : 'rgba(0,0,0,0)',
      tickWidth:0.8 },
    border: o.border ? o.border : {display:false},
    title: o.title ? {display:true, text:o.title, color:'#000', font:{size:9.5, family:FONT}, padding:{top:0,bottom:0}} : {display:false}
  };
}

const ggBg = { id:'ggBg', beforeDraw(chart){ const {ctx,chartArea:a}=chart; ctx.save(); ctx.fillStyle='#EBEBEB'; ctx.fillRect(a.left,a.top,a.right-a.left,a.bottom-a.top); ctx.restore(); } };

const baseOpts = { responsive:false, animation:false, layout:{padding:0}, plugins:{legend:{display:false}, tooltip:{enabled:false}} };

// ---------------- PANEL A ----------------
(function(){
  const plot={l:47,t:0,r:323,b:214};
  const cv=makeCanvas('chartA',0,0,plot.r,238);
  new Chart(cv,{
    type:'bar',
    data:{datasets:[{data:features.map((f,i)=>({x:meanAbsShap[i],y:i+1})), backgroundColor:'#233D6B', borderColor:'#7585A3', borderWidth:0.6, borderSkipped:false, barThickness:15.5}]},
    options:Object.assign({}, baseOpts, { indexAxis:'y',
      scales:{
        x: ggLinear({position:'bottom', min:-0.0563, max:1.1813, majors:[0,0.3,0.6,0.9], minors:[0.15,0.45,0.75,1.05], fmt:f1, size:24, title:'mean(|SHAP value|)'}),
        y: ggLinear({position:'left', min:0.4, max:9.6, reverse:true, majors:[1,2,3,4,5,6,7,8,9], fmt:v=>features[Math.round(v)-1], size:47, tickFont:9})
      }}),
    plugins:[ggBg]
  });
  addLetter('A',11,7);
})();

// ---------------- PANEL B ----------------
(function(){
  const cl=326, plot={l:378,t:0,r:610,b:214};
  const cv=makeCanvas('chartB',cl,0,653-cl,238);
  const allShap=[]; features.forEach(f=>beeswarmSources[f].forEach(d=>allShap.push(d[1])));
  const [xmin,xmax]=expand(allShap);
  const zeroLine={id:'zeroLine', beforeDatasetsDraw(chart){ const {ctx,chartArea:a,scales:{x}}=chart; const px=Math.round(x.getPixelForValue(0))+0.5; ctx.save(); ctx.strokeStyle='#A9A9A9'; ctx.lineWidth=1; ctx.beginPath(); ctx.moveTo(px,a.top); ctx.lineTo(px,a.bottom); ctx.stroke(); ctx.restore(); } };
  const cbar={id:'cbar', afterDraw(chart){
    const ctx=chart.ctx, x0=626-cl, y0=65, w=5, h=86;
    const g=ctx.createLinearGradient(0,y0+h,0,y0);
    for(let k=0;k<=20;k++) g.addColorStop(k/20, featureColor(k/20));
    ctx.save(); ctx.fillStyle=g; ctx.fillRect(x0,y0,w,h);
    ctx.fillStyle='#000'; ctx.font='9.5px '+FONT; ctx.textBaseline='middle'; ctx.textAlign='left';
    ctx.fillText('High',x0+w+5,y0+2); ctx.fillText('Low',x0+w+5,y0+h);
    ctx.translate(619-cl,107); ctx.rotate(-Math.PI/2); ctx.textAlign='center'; ctx.fillText('Feature value',0,0);
    ctx.restore(); } };
  const chart=new Chart(cv,{
    type:'scatter',
    data:{datasets:[{data:[], pointRadius:2.1, pointBackgroundColor:[], pointBorderWidth:0, pointHoverRadius:2.1}]},
    options:Object.assign({}, baseOpts, { layout:{padding:{right:653-plot.r}},
      scales:{
        x: ggLinear({position:'bottom', min:xmin, max:xmax, majors:[-3,-2,-1,0,1,2,3], minors:[-3.5,-2.5,-1.5,-0.5,0.5,1.5,2.5], fmt:f0, size:24, title:'SHAP value'}),
        y: ggLinear({position:'left', min:0.4, max:9.6, reverse:true, majors:[1,2,3,4,5,6,7,8,9], fmt:v=>features[Math.round(v)-1], size:plot.l-cl, tickFont:9})
      }}),
    plugins:[ggBg, zeroLine, cbar]
  });
  // density-scaled "bee" layout (like shapviz position_bee): vertical offsets only
  function vdc(k){ let q=0, b=0.5; k=k+1; while(k>0){ q+=(k&1)*b; k>>=1; b/=2; } return q; }
  function beeOffsets(vals,width,adjust){
    const n=vals.length, idx=[...Array(n).keys()].sort((a,b)=>vals[a]-vals[b]);
    const s=[...vals].sort((a,b)=>a-b);
    const mean=s.reduce((a,b)=>a+b,0)/n, sd=Math.sqrt(s.reduce((a,b)=>a+(b-mean)**2,0)/(n-1));
    const iqr=s[Math.floor(0.75*(n-1))]-s[Math.floor(0.25*(n-1))];
    const bw=0.9*Math.min(sd, iqr/1.34)*Math.pow(n,-0.2)*adjust;
    const dens=vals.map(v=>{ let t=0; for(const u of vals){ const z=(v-u)/bw; t+=Math.exp(-0.5*z*z); } return t; });
    const md=Math.max(...dens);
    const off=new Array(n).fill(0);
    idx.forEach((i,k)=>{ const sign=(k%2===0)?1:-1; off[i]=width*(dens[i]/md)*sign*vdc(k>>1); });
    return off;
  }
  const pts=[], cols=[];
  features.forEach((f,r)=>{
    const rows=beeswarmSources[f];
    const fv=rows.map(d=>d[0]); const mn=Math.min(...fv), mx=Math.max(...fv);
    const offs=beeOffsets(rows.map(d=>d[1]),0.43,0.5);
    rows.forEach((d,i)=>{ pts.push({x:d[1], y:(r+1)+offs[i]}); cols.push(featureColor((d[0]-mn)/(mx-mn))); });
  });
  chart.data.datasets[0].data=pts; chart.data.datasets[0].pointBackgroundColor=cols; chart.update('none');
  addLetter('B',349,5);
})();

// ---------------- PANEL C ----------------
(function(){
  const cl=40, ct=242, plot={l:70,t:242,r:590,b:355};
  const cv=makeCanvas('chartC',cl,ct,600-cl,376-ct);
  const labelNudge={Ca:[-9,-16],RDWCV:[10,-27],SI:[12,-16],APACHEII:[16,-18.5],SII:[8.5,-18.5],Lac:[0,-18.5],PLT:[-4,-18.5],TP:[15,-22],K:[7,-11]};
  const force={id:'force', afterDraw(chart){
    const {ctx,chartArea:a,scales:{x}}=chart;
    const top=a.top+37, bot=a.top+60, mid=(top+bot)/2, dd=4;
    const sumPos=forceShap.filter(v=>v>0).reduce((s,v)=>s+v,0);
    const segs=[]; let cur=fxValue-sumPos;
    forceShap.forEach((v,i)=>{ if(v>0){ segs.push({i,v,a:cur,b:cur+v}); cur+=v; } });
    cur=fxValue;
    forceShap.forEach((v,i)=>{ if(v<0){ segs.push({i,v,a:cur,b:cur-v}); cur-=v; } });
    ctx.save();
    segs.forEach(s=>{
      const x0=x.getPixelForValue(s.a), x1=x.getPixelForValue(s.b);
      ctx.beginPath();
      if(s.v>0){ ctx.moveTo(x0-dd,top); ctx.lineTo(x1-dd,top); ctx.lineTo(x1,mid); ctx.lineTo(x1-dd,bot); ctx.lineTo(x0-dd,bot); ctx.lineTo(x0,mid); }
      else { ctx.moveTo(x0,mid); ctx.lineTo(x0+dd,top); ctx.lineTo(x1+dd,top); ctx.lineTo(x1,mid); ctx.lineTo(x1+dd,bot); ctx.lineTo(x0+dd,bot); }
      ctx.closePath();
      ctx.fillStyle = s.v>0 ? '#FF0000' : '#1E90FF';
      ctx.fill(); ctx.strokeStyle='rgba(40,40,40,0.75)'; ctx.lineWidth=0.6; ctx.stroke();
    });
    ctx.textAlign='center'; ctx.textBaseline='middle'; ctx.fillStyle='#1A1A1A';
    segs.forEach(s=>{
      const x0=x.getPixelForValue(s.a), x1=x.getPixelForValue(s.b), w=Math.abs(x1-x0), m=(x0+x1)/2;
      ctx.font='9px '+FONT;
      if(w>20) ctx.fillText((s.v>0?'+':'\u2212')+Math.abs(s.v).toString(), m, mid);
      ctx.font='8.6px '+FONT;
      const f=forceFeatures[s.i], nd=labelNudge[f]||[0,-18];
      const txt=f+'='+forceFeatureValues[s.i]; const tw=ctx.measureText(txt).width;
      const lx=m+nd[0], ly=top+nd[1];
      ctx.fillStyle='#1A1A1A'; ctx.fillText(txt,lx,ly);
      const sxp=Math.max(lx-tw/2+2,Math.min(lx+tw/2-2,m));
      ctx.strokeStyle='#808080'; ctx.lineWidth=0.6; ctx.beginPath(); ctx.moveTo(sxp,ly+5); ctx.lineTo(m,top); ctx.stroke();
    });
    ctx.setLineDash([2,2]); ctx.strokeStyle='#333'; ctx.lineWidth=0.8;
    const xb=x.getPixelForValue(baseValue), xf=x.getPixelForValue(fxValue);
    ctx.beginPath(); ctx.moveTo(xb,bot); ctx.lineTo(xb,bot+31); ctx.stroke();
    ctx.beginPath(); ctx.moveTo(xf,bot); ctx.lineTo(xf,bot+11); ctx.stroke();
    ctx.setLineDash([]);
    ctx.fillStyle='#1A1A1A'; ctx.font='8.6px '+FONT;
    ctx.fillText('E[f(x)]='+minus(String(baseValue)), xb+7, bot+40);
    ctx.fillText('f(x)='+fxValue, xf+5, bot+19);
    ctx.restore();
  }};
  new Chart(cv,{
    type:'scatter', data:{datasets:[{data:[]}]},
    options:Object.assign({}, baseOpts, { layout:{padding:{left:plot.l-cl, right:600-plot.r}},
      scales:{
        x: ggLinear({position:'bottom', min:-1.513, max:4.226, majors:[-1,0,1,2,3,4], minors:[], fmt:f0, size:21, title:'SHAP value', gridColor:'#E3E3E3', majorW:0.8, tickLen:3, border:{display:true,color:'#000',width:1}}),
        y: {type:'linear', display:false, min:0, max:1}
      }}),
    plugins:[force]
  });
  addLetter('C',87,246);
})();

// ---------------- PANELS D–L ----------------
function scatterPanel(p){
  const [xmin,xmax]=expand(p.data.map(d=>d[0])), [ymin,ymax]=expand(p.data.map(d=>d[1]));
  const cl=Math.round(p.ytitleX-5.7);
  const w=p.plot.r-cl, h=p.plot.b-p.plot.t+p.xAxisH;
  const cv=makeCanvas(p.id,cl,p.plot.t,w,h);
  new Chart(cv,{
    type:'scatter',
    data:{datasets:[{data:p.data.map(d=>({x:d[0],y:d[1]})), pointRadius:2.2, pointBackgroundColor:'#32508F', pointBorderWidth:0, pointHoverRadius:2.2}]},
    options:Object.assign({}, baseOpts, {
      scales:{
        x: ggLinear({position:'bottom', min:xmin, max:xmax, majors:p.xMaj, minors:p.xMin, fmt:p.xfmt, size:p.xAxisH, title:p.xtitle}),
        y: ggLinear({position:'left', min:ymin, max:ymax, majors:p.yMaj, minors:p.yMin, fmt:p.yfmt, size:p.plot.l-cl, title:'SHAP value'})
      }}),
    plugins:[ggBg]
  });
  addLetter(p.letter,p.lx,p.ly);
}
const halves=(a,b)=>{const r=[];for(let v=a;v<=b+1e-9;v+=1)r.push(+(v+0.5).toFixed(2));return r;};

scatterPanel({id:'chartD',letter:'D',lx:7,ly:379,data:apacheiiData,plot:{l:32,t:380,r:206,b:559},xAxisH:22,ytitleX:12,xtitle:'APACHEII',
  xMaj:[0,10,20,30,40,50],xMin:[5,15,25,35,45],xfmt:f0,yMaj:[-1.5,-1,-0.5,0,0.5,1],yMin:[-1.25,-0.75,-0.25,0.25,0.75],yfmt:f1});
scatterPanel({id:'chartE',letter:'E',lx:223,ly:380,data:siData,plot:{l:242,t:380,r:420,b:559},xAxisH:22,ytitleX:225,xtitle:'SI',
  xMaj:[1,2,3,4],xMin:[0.5,1.5,2.5,3.5],xfmt:f0,yMaj:[-1,0,1],yMin:[-0.5,0.5,1.5],yfmt:f0});
scatterPanel({id:'chartF',letter:'F',lx:442,ly:380,data:pltData,plot:{l:460,t:380,r:635,b:559},xAxisH:22,ytitleX:440,xtitle:'PLT',
  xMaj:[0,250,500,750],xMin:[125,375,625,875],xfmt:f0,yMaj:[-3,-2,-1,0,1,2],yMin:halves(-3,2),yfmt:f0});
scatterPanel({id:'chartG',letter:'G',lx:8,ly:587,data:rdwcvData,plot:{l:29,t:585,r:206,b:765},xAxisH:21,ytitleX:12,xtitle:'RDWCV',
  xMaj:[20,30,40],xMin:[15,25,35],xfmt:f0,yMaj:[-1,0,1],yMin:[-1.5,-0.5,0.5,1.5],yfmt:f0});
scatterPanel({id:'chartH',letter:'H',lx:222,ly:587,data:siiData,plot:{l:247,t:585,r:420,b:764},xAxisH:22,ytitleX:225,xtitle:'SII',
  xMaj:[0,10000,20000],xMin:[5000,15000,25000],xfmt:f0,yMaj:[-1,-0.5,0,0.5,1],yMin:[-1.25,-0.75,-0.25,0.25,0.75],yfmt:f1});
scatterPanel({id:'chartI',letter:'I',lx:437,ly:587,data:tpData,plot:{l:456,t:586,r:634,b:766},xAxisH:20,ytitleX:440,xtitle:'TP',
  xMaj:[20,40,60],xMin:[30,50,70],xfmt:f0,yMaj:[0,1,2],yMin:[-0.5,0.5,1.5],yfmt:f0});
scatterPanel({id:'chartJ',letter:'J',lx:10,ly:795,data:lacData,plot:{l:28,t:791,r:204,b:972},xAxisH:19,ytitleX:12,xtitle:'Lac',
  xMaj:[0,10,20,30],xMin:[5,15,25,35],xfmt:f0,yMaj:[-3,-2,-1,0,1,2],yMin:halves(-3,2),yfmt:f0});
scatterPanel({id:'chartK',letter:'K',lx:227,ly:795,data:kData,plot:{l:242,t:791,r:420,b:972},xAxisH:19,ytitleX:225,xtitle:'K',
  xMaj:[2.5,5,7.5,10],xMin:[3.75,6.25,8.75],xfmt:f1,yMaj:[-2,-1,0,1,2],yMin:halves(-2,2),yfmt:f0});
scatterPanel({id:'chartL',letter:'L',lx:438,ly:795,data:caData,plot:{l:459,t:791,r:636,b:972},xAxisH:19,ytitleX:440,xtitle:'Ca',
  xMaj:[0.4,0.8,1.2,1.6],xMin:[0.6,1.0,1.4,1.8],xfmt:f1,yMaj:[-1,0,1],yMin:[-1.5,-0.5,0.5],yfmt:f0});
</script>
</body></html>
